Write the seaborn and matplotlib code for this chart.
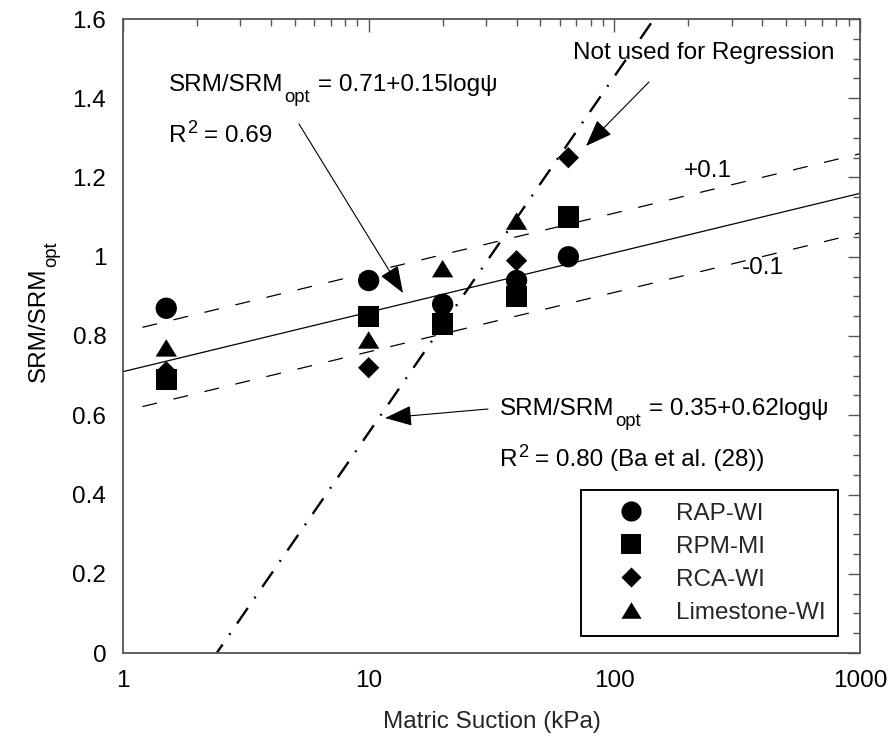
import numpy as np
import pandas as pd
import matplotlib
matplotlib.use("Agg")
import matplotlib.pyplot as plt
from matplotlib.lines import Line2D
from matplotlib.ticker import MultipleLocator, LogLocator, FuncFormatter, NullFormatter
import seaborn as sns

# Matric suction levels (kPa)
suction = [1.5, 10, 20, 40, 65]

# Normalised resilient modulus SRM/SRM_opt for each material
rap_wi = [0.87, 0.94, 0.88, 0.94, 1.00]
rpm_mi = [0.69, 0.85, 0.83, 0.90, 1.10]
rca_wi = [0.71, 0.72, 0.85, 0.99, 1.25]
limestone_wi = [0.77, 0.79, 0.97, 1.09, 1.10]

materials = ["RAP-WI", "RPM-MI", "RCA-WI", "Limestone-WI"]

# Fitted regression: SRM/SRM_opt = a + b log(psi), with +/- 0.1 band
fit_a, fit_b = 0.71, 0.15
band = 0.1
# Ba et al. (28) relation as drawn on the suction axis in kPa
ba_a, ba_b = -0.343, 0.899

sns.set_theme(style="white")
plt.rcParams["font.family"] = ["Liberation Sans", "DejaVu Sans"]

FS = 17.5
AX_COLOR = "#555555"
W, H = 889, 740

fig = plt.figure(figsize=(W / 100, H / 100), dpi=100)
ax = fig.add_axes([123 / W, 87 / H, (860 - 123) / W, (653 - 19) / H])

# Scatter data (diamonds drawn first, circles last)
rows = []
for name, vals in [("RCA-WI", rca_wi), ("Limestone-WI", limestone_wi),
                   ("RPM-MI", rpm_mi), ("RAP-WI", rap_wi)]:
    for s, v in zip(suction, vals):
        rows.append({"suction": s, "ratio": v, "material": name})
df = pd.DataFrame(rows)

diamond = [(0, 1), (1, 0), (0, -1), (-1, 0), (0, 1)]
triangle = [(0, 0.82), (1, -0.82), (-1, -0.82), (0, 0.82)]
marker_map = {"RAP-WI": "o", "RPM-MI": "s", "RCA-WI": diamond, "Limestone-WI": triangle}

# Regression line, +/- band and Ba et al. relation
xs = np.logspace(0, 3, 200)
ax.plot(xs, fit_a + fit_b * np.log10(xs), color="black", lw=0.9, zorder=2)
xb = np.logspace(np.log10(1.2), 3, 200)
for sgn in (1, -1):
    ax.plot(xb, fit_a + sgn * band + fit_b * np.log10(xb), color="black", lw=0.9,
            linestyle=(0, (12, 13.5)), zorder=2)
xd = np.logspace(np.log10(2.3), np.log10(160), 200)
ax.plot(xd, ba_a + ba_b * np.log10(xd), color="black", lw=1.7,
        linestyle=(0, (8, 5, 0.8, 5)), zorder=2)

sns.scatterplot(data=df, x="suction", y="ratio", style="material",
                style_order=materials, markers=marker_map, color="black",
                s=235, edgecolor="none", linewidth=0, legend=False, ax=ax, zorder=3)

ax.set_xscale("log")
ax.set_xlim(1, 1000)
ax.set_ylim(0, 1.6)
ax.yaxis.set_major_locator(MultipleLocator(0.2))
ax.yaxis.set_minor_locator(MultipleLocator(0.05))
ax.yaxis.set_major_formatter(FuncFormatter(lambda v, p: f"{v:g}"))
ax.xaxis.set_major_locator(LogLocator(base=10, numticks=10))
ax.xaxis.set_minor_locator(LogLocator(base=10, subs=np.arange(2, 10), numticks=20))
ax.xaxis.set_minor_formatter(NullFormatter())
ax.xaxis.set_major_formatter(FuncFormatter(lambda v, p: f"{v:g}"))

for sp in ax.spines.values():
    sp.set_visible(True)
    sp.set_color(AX_COLOR)
    sp.set_linewidth(1.3)
ax.tick_params(which="both", direction="in", top=True, right=True,
               color=AX_COLOR, width=1.0, labelsize=FS, labelcolor="black")
ax.tick_params(which="major", length=9)
ax.tick_params(which="minor", length=5)
ax.tick_params(axis="x", which="major", pad=12)
ax.tick_params(axis="y", which="major", pad=12)

ax.set_xlabel("Matric Suction (kPa)", fontsize=FS, labelpad=14)
ax.set_ylabel("")

renderer = fig.canvas.get_renderer()


def rich(x0, y0, parts, rotation=0, center=False):
    """Write text made of pieces (text, size scale, baseline drop px, gap px)
    starting at pixel (x0, y0), y measured downward."""
    items = []
    for s, scale, drop, gap in parts:
        t = fig.text(0, 0, s, fontsize=FS * scale, rotation=rotation,
                     rotation_mode="anchor", ha="left", va="baseline", color="black")
        bb = t.get_window_extent(renderer)
        items.append((t, bb.height if rotation == 90 else bb.width, drop, gap))
    total = sum(w + g for _, w, _, g in items)
    adv = -total / 2 if center else 0.0
    for t, w, drop, gap in items:
        adv += gap
        if rotation == 90:
            xp, yp = x0 + drop, y0 - adv
        else:
            xp, yp = x0 + adv, y0 + drop
        t.set_position((xp / W, (H - yp) / H))
        adv += w


def px_data(xp, yp):
    """Data coordinates of a pixel position (y measured downward)."""
    return ax.transData.inverted().transform((xp, H - yp))


ratio_parts = [("SRM/SRM", 1.0, 0, 0), ("opt", 0.76, 11, 0.5)]
rich(169, 91, ratio_parts + [("= 0.71+0.15log\u03c8", 1.0, 0, 8)])
rich(169, 142, [("R", 1.0, 0, 0), ("2", 0.75, -9, 0.5), ("= 0.69", 1.0, 0, 7)])
rich(573, 59, [("Not used for Regression", 1.0, 0, 0)])
rich(684, 177, [("+0.1", 1.0, 0, 0)])
rich(742, 274, [("-0.1", 1.0, 0, 0)])
rich(500, 415, ratio_parts + [("= 0.35+0.62log\u03c8", 1.0, 0, 8)])
rich(500, 466, [("R", 1.0, 0, 0), ("2", 0.75, -9, 0.5),
                ("= 0.80 (Ba et al. (28))", 1.0, 0, 7)])
# Rotated y-axis label
rich(45, 312, ratio_parts, rotation=90, center=True)

arrow_kw = dict(arrowstyle="-|>,head_length=0.85,head_width=0.32", mutation_scale=20,
                color="black", lw=0.8, shrinkA=0, shrinkB=0)
for tail, tip in [((299, 124), (403, 293)), ((649, 82), (586, 146)), ((488, 409), (385, 418))]:
    ax.annotate("", xy=px_data(*tip), xytext=px_data(*tail), arrowprops=arrow_kw, zorder=4)

handles = [Line2D([], [], linestyle="none", marker=marker_map[m], color="black",
                  markersize=14.5, markeredgewidth=0) for m in materials]
leg = ax.legend(handles, materials, loc="lower right", bbox_to_anchor=(0.970, 0.027),
                borderaxespad=0, fontsize=FS, frameon=True, fancybox=False,
                edgecolor="black", framealpha=1, handlelength=3.1, handletextpad=0.3,
                labelspacing=0.455, borderpad=0.5)
leg.get_frame().set_linewidth(1.4)
leg.get_frame().set_edgecolor("black")

fig.savefig("out.png", dpi=100)
